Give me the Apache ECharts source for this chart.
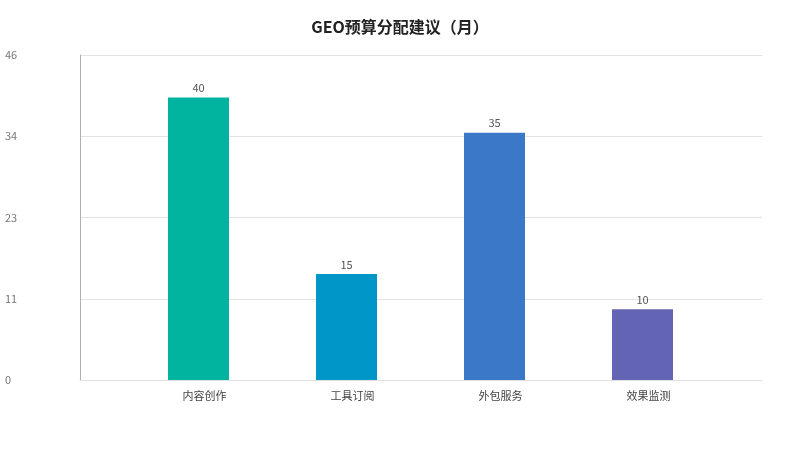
<!DOCTYPE html>
<html><head><meta charset="utf-8">
<script src="https://cdn.jsdelivr.net/npm/echarts@6/dist/echarts.min.js"></script>
<style>html,body{margin:0;padding:0;background:#fff}#c{width:800px;height:450px}</style>
</head><body><div id="c"></div>
<script>
const categories = ['内容创作', '工具订阅', '外包服务', '效果监测'];
const values = [40, 15, 35, 10];
const barColors = ['#00B4A0', '#0096C8', '#3C78C8', '#6464B4'];
const yTickLabels = ['0', '11', '23', '34', '46'];
const yMax = 46;

const chart = echarts.init(document.getElementById('c'));
const font = '"Noto Sans CJK SC","Noto Sans",sans-serif';
chart.setOption({
  animation: false,
  title: {
    text: 'GEO预算分配建议（月）', left: 'center', top: 14,
    textStyle: { fontFamily: font, fontSize: 16, fontWeight: 'bold', color: '#222' }
  },
  grid: [
    { left: 80, right: 38, top: 55, bottom: 70 },
    { left: 124.5, right: 83.5, top: 55, bottom: 70 }
  ],
  xAxis: [
    { gridIndex: 0, type: 'category', data: categories, show: true,
      axisLine: { show: true, lineStyle: { color: '#e0e0e0' } },
      axisTick: { show: false }, axisLabel: { show: false } },
    { gridIndex: 1, type: 'category', data: categories,
      axisLine: { show: false }, axisTick: { show: false },
      axisLabel: { margin: 10, padding: [0, 0, 0, 12], fontFamily: font, fontSize: 11, color: '#444' } }
  ],
  yAxis: [
    { gridIndex: 0, type: 'value', min: 0, max: yMax, interval: yMax / 4,
      axisLine: { show: true, lineStyle: { color: '#b0b0b0' } },
      axisTick: { show: false },
      splitLine: { lineStyle: { color: '#e3e3e3' } },
      axisLabel: { align: 'left', margin: 75, padding: [3, 0, 0, 0], fontFamily: font, fontSize: 11, color: '#777',
        formatter: (v) => yTickLabels[Math.round(v / (yMax / 4))] } },
    { gridIndex: 1, type: 'value', min: 0, max: yMax, show: false }
  ],
  series: [{
    type: 'bar', xAxisIndex: 1, yAxisIndex: 1, barWidth: 61,
    data: values.map((v, i) => ({ value: v, itemStyle: { color: barColors[i] } })),
    label: { show: true, position: 'top', distance: 4, fontFamily: font, fontSize: 11, color: '#555' }
  }]
});
</script></body></html>
